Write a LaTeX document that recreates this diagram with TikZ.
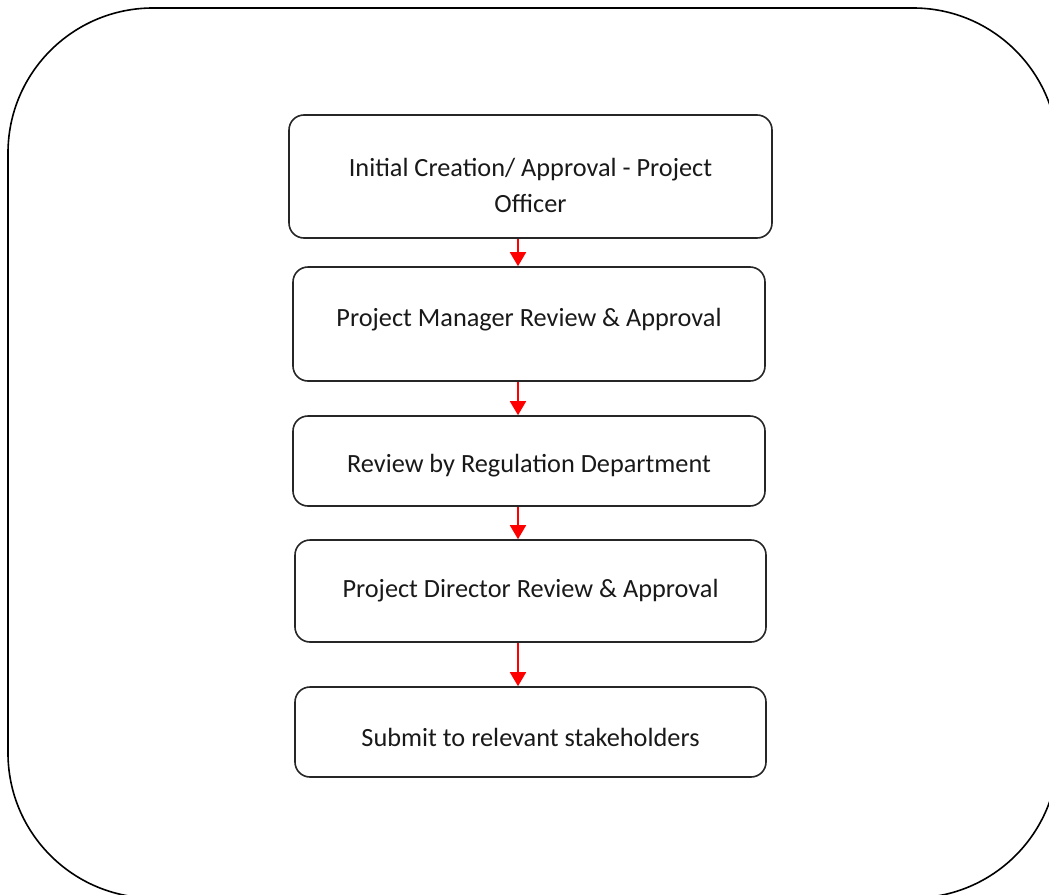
\documentclass[tikz,border=0pt]{standalone}
\usepackage{fontspec}
\setmainfont{Carlito}
\usetikzlibrary{arrows.meta,calc}
\begin{document}
\begin{tikzpicture}[x=1pt,y=-1pt,
  stepbox/.style={draw=black!85, line width=1.6pt, rounded corners=15pt, inner sep=0pt},
  steptext/.style={align=center, font=\fontsize{26.3}{36}\selectfont, text=black!90, inner sep=0pt},
  flow/.style={draw=red, line width=1.8pt, -{Triangle[width=16pt,length=14pt]}, fill=red}]
\useasboundingbox (0,0) rectangle (1049,894);
\begin{scope}
\clip (0,0) rectangle (1049,894);
\draw[line width=1.6pt, rounded corners=145pt] (8,8) rectangle (1058,898);
\end{scope}
\node[stepbox, minimum width=483pt, minimum height=123pt,
  label={[steptext, yshift=-9pt]center:{Initial Creation/ Approval - Project\\Officer}}] (b1) at (530.5,176.5) {};
\node[stepbox, minimum width=472pt, minimum height=114pt,
  label={[steptext, yshift=4pt]center:{Project Manager Review \& Approval}}] (b2) at (529,324) {};
\node[stepbox, minimum width=472pt, minimum height=90pt,
  label={[steptext, yshift=-5pt]center:{Review by Regulation Department}}] (b3) at (529,461) {};
\node[stepbox, minimum width=471pt, minimum height=102pt,
  label={[steptext, yshift=0pt]center:{Project Director Review \& Approval}}] (b4) at (530.5,591) {};
\node[stepbox, minimum width=471pt, minimum height=90pt,
  label={[steptext, yshift=-5pt]center:{Submit to relevant stakeholders}}] (b5) at (530.5,732) {};
\coordinate (ax) at (518,0);
\draw[flow] (b1.south -| ax) -- (b2.north -| ax);
\draw[flow] (b2.south -| ax) -- (b3.north -| ax);
\draw[flow] (b3.south -| ax) -- (b4.north -| ax);
\draw[flow] (b4.south -| ax) -- (b5.north -| ax);
\end{tikzpicture}
\end{document}
